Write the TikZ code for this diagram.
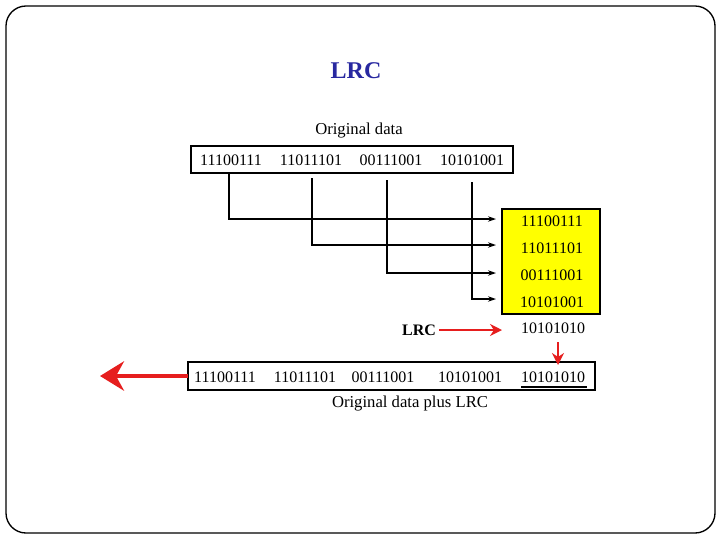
\documentclass[tikz,border=0pt]{standalone}
\usepackage{fontspec}
\setmainfont{Liberation Serif}
\usetikzlibrary{arrows.meta}
\definecolor{titleblue}{RGB}{40,40,160}
\definecolor{boxyellow}{RGB}{255,255,0}
\definecolor{arrred}{RGB}{230,30,30}
\begin{document}
\begin{tikzpicture}[x=0.75pt,y=-0.75pt,
  bits/.style={font=\fontsize{12}{14}\selectfont, inner sep=0pt},
  lbl/.style={font=\fontsize{12.5}{14}\selectfont, inner sep=0pt},
  conn/.style={draw=black, line width=1pt, -{Stealth[length=6pt,width=4pt]}},
  redarr/.style={draw=arrred, line width=1.3pt, -{Stealth[length=9pt,width=9pt]}}]
\useasboundingbox (0,0) rectangle (720,540);
\draw[line width=1pt, rounded corners=15pt] (6,6) rectangle (715,533);
\node[font=\fontsize{18}{20}\selectfont\bfseries, text=titleblue] (title) at (356,71) {LRC};
\node[lbl] (orig) at (359,131) {Original data};
% top box
\draw[line width=2pt] (191,146) rectangle (513,173);
\node[bits] (a1) at (231,160) {11100111};
\node[bits] (a2) at (311,160) {11011101};
\node[bits] (a3) at (391,160) {00111001};
\node[bits] (a4) at (472,160) {10101001};
% yellow box
\draw[fill=boxyellow, draw=black, line width=0.8pt] (502,209) rectangle (600,314);
\node[bits] (y1) at (552,221) {11100111};
\node[bits] (y2) at (552,248) {11011101};
\node[bits] (y3) at (552,275) {00111001};
\node[bits] (y4) at (552,302) {10101001};
\coordinate (e1) at (496,219);
\coordinate (e2) at (496,245);
\coordinate (e3) at (496,273);
\coordinate (e4) at (496,299);
\draw[conn] (229,173) |- (e1);
\draw[conn] (312,178) |- (e2);
\draw[conn] (387,180) |- (e3);
\draw[conn, line width=1.8pt] (472,182) |- (e4);
% LRC
\node[font=\fontsize{12}{14}\selectfont\bfseries, inner sep=0pt] (lrc) at (419,330) {LRC};
\node[bits] (lrcv) at (553,328) {10101010};
\draw[redarr] (lrc.east) ++(3,0) -- (502,330);
% bottom box
\draw[line width=1.5pt] (188,362) rectangle (595,390);
\node[bits] (b1) at (225,377) {11100111};
\node[bits] (b2) at (305,377) {11011101};
\node[bits] (b3) at (383,377) {00111001};
\node[bits] (b4) at (470,377) {10101001};
\node[bits] (b5) at (553,377) {10101010};
\draw[line width=1.5pt] (521,386.5) -- (587,386.5);
\draw[redarr] (558,342) -- (558,365);
\coordinate (out) at (100,376);
\draw[draw=arrred, line width=3.5pt, -{Stealth[length=18pt,width=22pt,inset=6pt]}] (188,376) -- (out);
\node[lbl] (plus) at (410,404) {Original data plus LRC};
\end{tikzpicture}
\end{document}
